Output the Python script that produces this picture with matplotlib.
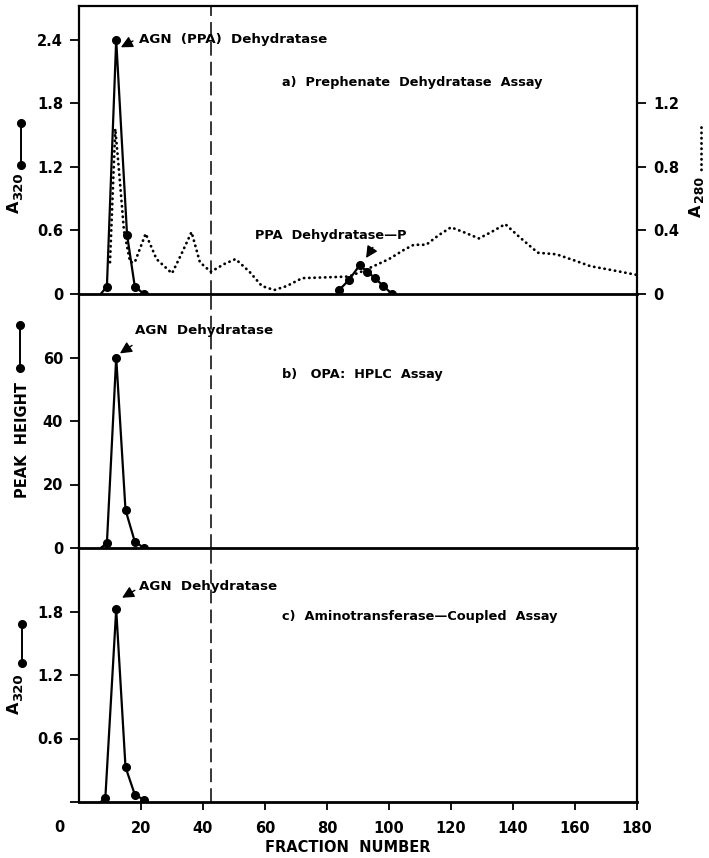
import matplotlib
matplotlib.use("Agg")
import matplotlib.pyplot as plt
from matplotlib.lines import Line2D

plt.rcParams['font.family'] = ['DejaVu Sans']
plt.rcParams['font.weight'] = 'bold'

# ---------------- data ----------------
# panel a: A320 (solid, markers) -- AGN (PPA) Dehydratase peak
frac_a = [7, 9, 12, 15.5, 18, 21]
a320_a = [0.0, 0.07, 2.4, 0.56, 0.07, 0.0]
# panel a: PPA Dehydratase-P peak
frac_p = [84, 87, 90.5, 93, 95.5, 98, 101]
a320_p = [0.04, 0.13, 0.27, 0.21, 0.15, 0.08, 0.0]
# panel a: A280 (dotted, right axis)
frac_280 = [10, 11.7, 12.8, 14.5, 16.5, 18, 21.5, 25, 30, 33, 36.3, 39, 42.5,
            47, 50.5, 55, 59, 63, 67, 72, 80, 87, 91, 95, 100, 105, 108, 112,
            116, 120, 124, 129, 133, 137.5, 142, 148, 154, 160, 165, 172, 180]
a280 = [0.2, 1.04, 0.8, 0.4, 0.2, 0.2, 0.38, 0.22, 0.13, 0.25, 0.39, 0.2, 0.14,
        0.19, 0.22, 0.14, 0.05, 0.025, 0.05, 0.10, 0.105, 0.11, 0.14, 0.175,
        0.22, 0.28, 0.31, 0.31, 0.37, 0.42, 0.39, 0.35, 0.39, 0.44, 0.36, 0.26,
        0.25, 0.21, 0.175, 0.15, 0.12]
# panel b: OPA HPLC peak height
frac_b = [7, 9, 12, 15, 18, 21]
peak_b = [0.0, 1.5, 60, 12, 2, 0.0]
# panel c: aminotransferase-coupled A320
frac_c = [7, 8.5, 12, 15, 18, 21]
a320_c = [0.0, 0.04, 1.82, 0.33, 0.07, 0.02]

x_ticks = [20, 40, 60, 80, 100, 120, 140, 160, 180]
ticks_a = [0, 0.6, 1.2, 1.8, 2.4]
ticks_a_right = [0, 0.4, 0.8, 1.2]
ticks_b = [0, 20, 40, 60]
ticks_c = [0, 0.6, 1.2, 1.8]
divider = 42.5

# ---------------- figure ----------------
W, H = 709, 858
fig = plt.figure(figsize=(W / 100, H / 100), dpi=100)

def fx(px):
    return px / W

def fy(py):
    return 1 - py / H

L, R = 79, 637
axA = fig.add_axes([fx(L), fy(294), fx(R) - fx(L), (294 - 6) / H])
axB = fig.add_axes([fx(L), fy(548), fx(R) - fx(L), (548 - 294) / H])
axC = fig.add_axes([fx(L), fy(802), fx(R) - fx(L), (802 - 548) / H])

spine_lw = 1.6
for ax in (axA, axB, axC):
    ax.set_xlim(0, 180)
    for s in ax.spines.values():
        s.set_linewidth(spine_lw)
    ax.tick_params(axis='y', direction='out', length=6.5, width=1.3,
                   pad=5, labelsize=10.5)
    ax.tick_params(axis='x', bottom=False, labelbottom=False)
    ax.axvline(divider, color='black', lw=1.1, dashes=(9, 4))
    ax.patch.set_alpha(0)

axB.spines['top'].set_visible(False)
axC.spines['top'].set_visible(False)
for ax in (axA, axB, axC):
    ax.spines['bottom'].set_linewidth(2.0)

# panel a
axA.set_ylim(0, 2.72)
axA.set_yticks(ticks_a)
axA.set_yticklabels(['0', '0.6', '1.2', '1.8', '2.4'])
axA2 = axA.twinx()
axA2.set_ylim(0, 2.72 * 2 / 3)
axA2.set_yticks(ticks_a_right)
axA2.set_yticklabels(['0', '0.4', '0.8', '1.2'])
axA2.tick_params(axis='y', direction='out', length=6.5, width=1.3, pad=5,
                 labelsize=10.5)
for s in axA2.spines.values():
    s.set_visible(False)
axA2.plot(frac_280, a280, color='black', lw=2.0, linestyle=(0, (0.1, 1.8)),
          dash_capstyle='round')
axA.set_zorder(axA2.get_zorder() + 1)
axA.plot(frac_a, a320_a, color='black', lw=1.6, marker='o', ms=5.5,
         markevery=list(range(1, len(frac_a))))
axA.plot(frac_p, a320_p, color='black', lw=1.6, marker='o', ms=5.5)

ann_fs = 9.6
arrow_kw = dict(arrowstyle='-|>,head_length=0.7,head_width=0.35', color='black',
                shrinkA=0, shrinkB=0, lw=1.0)
axA.text(19.4, 2.4, 'AGN  (PPA)  Dehydratase', fontsize=ann_fs, va='center',
         ha='left')
axA.annotate('', xy=(13.5, 2.33), xytext=(17.4, 2.39), arrowprops=arrow_kw)
axA.text(65.5, 2.0, 'a)  Prephenate  Dehydratase  Assay', fontsize=9.3,
         va='center', ha='left')
axA.text(56.8, 0.55, 'PPA  Dehydratase\u2014P', fontsize=9.3, va='center',
         ha='left')
axA.annotate('', xy=(92.6, 0.34), xytext=(94.8, 0.44), arrowprops=arrow_kw)

# panel b
axB.set_ylim(0, 80)
axB.set_yticks(ticks_b)
axB.set_yticklabels(['0', '20', '40', '60'])
axB.plot(frac_b, peak_b, color='black', lw=1.6, marker='o', ms=5.5,
         markevery=list(range(1, len(frac_b))))
axB.text(18.1, 68.5, 'AGN  Dehydratase', fontsize=ann_fs, va='center', ha='left')
axB.annotate('', xy=(13.2, 61.3), xytext=(17.1, 63.8), arrowprops=arrow_kw)
axB.text(65.5, 54.7, 'b)   OPA:  HPLC  Assay', fontsize=9.3, va='center',
         ha='left')

# panel c
axC.set_ylim(0, 2.4)
axC.set_yticks(ticks_c)
axC.set_yticklabels(['', '0.6', '1.2', '1.8'])
axC.plot(frac_c, a320_c, color='black', lw=1.6, marker='o', ms=5.5,
         markevery=list(range(1, len(frac_c))))
axC.text(19.4, 2.04, 'AGN  Dehydratase', fontsize=ann_fs, va='center', ha='left')
axC.annotate('', xy=(13.9, 1.93), xytext=(18.0, 2.0), arrowprops=arrow_kw)
axC.text(65.5, 1.75, 'c)  Aminotransferase\u2014Coupled  Assay', fontsize=9.3,
         va='center', ha='left')
axC.tick_params(axis='x', bottom=True, labelbottom=True, direction='out',
                length=6, width=1.3, pad=8, labelsize=10.5)
axC.set_xticks(x_ticks)
axC.set_xticklabels([str(v) for v in x_ticks])
fig.text(fx(348), fy(847), 'FRACTION  NUMBER', fontsize=10.5, ha='center',
         va='center')
fig.text(fx(59), fy(827), '0', fontsize=10.5, ha='center', va='center')

# axis titles (letter + subscript as separate rotated texts) with glyphs
def sub_label(ax_main, main_xy, sub, sub_xy, sub_fs=9.5):
    fig.text(fx(main_xy[0]), fy(main_xy[1]), ax_main, rotation=90,
             fontsize=11.5, ha='center', va='center')
    fig.text(fx(sub_xy[0]), fy(sub_xy[1]), sub, rotation=90, fontsize=sub_fs,
             ha='center', va='center')

sub_label('A', (14, 206.5), '320', (19, 186.5))
sub_label('A', (14, 707.5), '320', (19, 687.5))
sub_label('A', (696, 211), '280', (700, 189), sub_fs=9)
fig.text(fx(23), fy(440), 'PEAK  HEIGHT', rotation=90, fontsize=10.5,
         ha='center', va='center')

for (gx, gy1, gy2) in [(20.7, 123, 165), (20, 325, 368), (21.7, 624, 663)]:
    fig.add_artist(Line2D([fx(gx), fx(gx)], [fy(gy1), fy(gy2)], color='black',
                          lw=1.4, marker='o', ms=5.5, transform=fig.transFigure))
fig.add_artist(Line2D([fx(701), fx(701)], [fy(127), fy(170)], color='black',
                      lw=2.0, linestyle=(0, (0.1, 1.8)), dash_capstyle='round',
                      transform=fig.transFigure))

fig.savefig('out.png', dpi=100)
